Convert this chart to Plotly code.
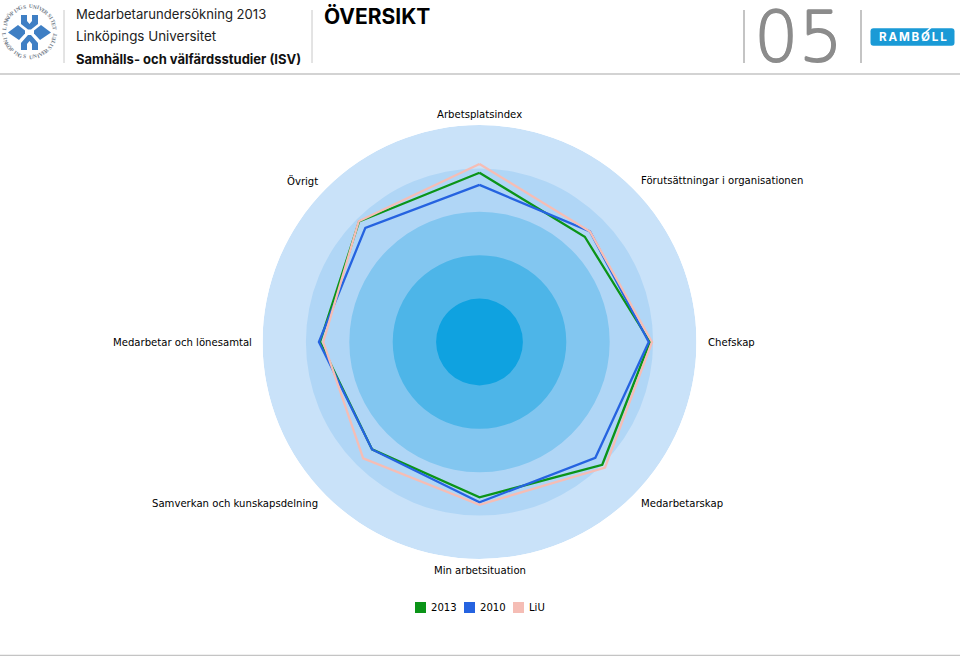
import math
import plotly.graph_objects as go

# chart values (scale 0-100)
categories = ["Arbetsplatsindex", "Förutsättningar i organisationen", "Chefskap", "Medarbetarskap",
              "Min arbetsituation", "Samverkan och kunskapsdelning", "Medarbetar och lönesamtal", "Övrigt"]
angles = [0, 45, 90, 135, 180, 225, 270, 315]
values_2013 = [78, 68.6, 78.5, 80, 71.6, 70, 73.5, 78.5]
values_2010 = [72.4, 72, 78, 75.5, 73.9, 70, 74, 74.4]
values_liu = [82, 72, 79.5, 81.8, 75, 75.8, 72, 78.7]
series_names = ["2013", "2010", "LiU"]
band_tops = [100, 80, 60, 40, 20]

band_colors = ["#c9e2f9", "#b0d6f6", "#82c6f0", "#4db5e8", "#0fa2e0"]
line_colors = ["#0b9418", "#2563e0", "#f5bdb5"]

W, H = 960, 656
CX, CY, R = 479.5, 342, 217
LABEL_R = 228
FONT = "DejaVu Sans"
HEAD = "Inter"


def px(x):
    return x / W


def py(y):
    return 1 - y / H


def text(x, y, s, size, color="#000000", family=FONT, anchor="left", weight=None, angle=0, shadow=None):
    return dict(x=px(x), y=py(y), xref="paper", yref="paper", text=s, showarrow=False, borderpad=0, borderwidth=0,
                xanchor=anchor, yanchor="middle", textangle=angle,
                font=dict(size=size, color=color, family=family, weight=weight, shadow=shadow))


def line(x0, y0, x1, y1, color="#c8c8c8", width=1):
    return dict(type="line", xref="paper", yref="paper", x0=px(x0), y0=py(y0), x1=px(x1), y1=py(y1),
                line=dict(color=color, width=width))


def box(x0, y0, x1, y1, color):
    return dict(type="rect", xref="paper", yref="paper", x0=px(x0), y0=py(y0), x1=px(x1), y1=py(y1),
                line=dict(width=0), fillcolor=color)


def poly(points, color):
    d = "M" + " L".join(f"{px(x):.5f},{py(y):.5f}" for x, y in points) + " Z"
    return dict(type="path", xref="paper", yref="paper", path=d, line=dict(width=0), fillcolor=color)


fig = go.Figure()

# rings, largest first
for top, col in zip(band_tops, band_colors):
    fig.add_trace(go.Barpolar(r=[top], theta=[0], width=[360], marker=dict(color=col, line=dict(width=0)),
                              showlegend=False, hoverinfo="skip"))

for name, vals, col in zip(series_names, [values_2013, values_2010, values_liu], line_colors):
    fig.add_trace(go.Scatterpolar(r=vals + vals[:1], theta=angles + angles[:1], mode="lines", name=name,
                                  line=dict(color=col, width=2.3), showlegend=False))

fig.update_layout(
    width=W, height=H, margin=dict(l=0, r=0, t=0, b=0), paper_bgcolor="white", showlegend=False,
    polar=dict(
        bgcolor="rgba(0,0,0,0)", barmode="overlay",
        domain=dict(x=[px(CX - R), px(CX + R)], y=[py(CY + R), py(CY - R)]),
        radialaxis=dict(range=[0, 100], visible=False),
        angularaxis=dict(direction="clockwise", rotation=90, tickmode="array", tickvals=angles,
                         showticklabels=False, showgrid=False, showline=False, ticks=""),
    ),
)

shapes = [line(0, 74, 960, 74, "#c4c4c4", 1.5), line(0, 655.5, 960, 655.5, "#c4c4c4", 1.5),
          line(64, 10, 64, 63), line(312, 10, 312, 63), line(744, 10, 744, 63, "#c4c4c4", 2), line(861, 10, 861, 63, "#c4c4c4", 2)]
notes = []

# LiU logo: emblem
EMBLEM = "#3f7fc4"
shapes.append(poly([(21, 15), (27, 15), (27, 21), (29.5, 24), (32, 21), (32, 15), (38, 15), (38, 24), (31, 29.5), (28, 29.5), (21, 24)], EMBLEM))
shapes.append(poly([(8, 32.5), (18, 25), (25, 30.5), (25, 33.5), (19, 40)], EMBLEM))
shapes.append(poly([(51, 32.5), (41, 25), (34, 30.5), (34, 33.5), (40, 40)], EMBLEM))
shapes.append(poly([(21, 43), (28, 35), (31, 35), (38, 43), (38, 50), (32, 50), (32, 44), (29.5, 41), (27, 44), (27, 50), (21, 50)], EMBLEM))

# LiU logo: ring text, one letter at a time
ring_text = "LINKÖPINGS UNIVERSITET"
RING_R = 25.5
for i, ch in enumerate(ring_text):
    if ch == " ":
        continue
    a = -82 + 164 * i / (len(ring_text) - 1)
    notes.append(text(29.5 + RING_R * math.sin(math.radians(a)), 31.5 - RING_R * math.cos(math.radians(a)), ch, 5.5,
                      "#77828d", "Liberation Serif", "center", 700, a))
    notes.append(text(29.5 + RING_R * math.sin(math.radians(a)), 31.5 + RING_R * math.cos(math.radians(a)), ch, 5.5,
                      "#77828d", "Liberation Serif", "center", 700, -a))

# Ramboll badge
r = 3
bx0, by0, bx1, by1 = 870.5, 28.3, 954.5, 45.7
d = (f"M{px(bx0 + r)},{py(by0)} L{px(bx1 - r)},{py(by0)} Q{px(bx1)},{py(by0)} {px(bx1)},{py(by0 + r)} "
     f"L{px(bx1)},{py(by1 - r)} Q{px(bx1)},{py(by1)} {px(bx1 - r)},{py(by1)} L{px(bx0 + r)},{py(by1)} "
     f"Q{px(bx0)},{py(by1)} {px(bx0)},{py(by1 - r)} L{px(bx0)},{py(by0 + r)} Q{px(bx0)},{py(by0)} {px(bx0 + r)},{py(by0)} Z")
shapes.append(dict(type="path", xref="paper", yref="paper", path=d, line=dict(width=0), fillcolor="#1a9ad6"))
shapes.append(line(925, 33, 931, 27.5, "#ffffff", 1.6))

# legend, drawn by hand to get the tight swatches of the original
legend_x = [415, 464, 513]
for x, name, col in zip(legend_x, series_names, line_colors):
    shapes.append(box(x, 602, x + 11, 613, col))
    notes.append(text(x + 16, 607.5, name, 10.1))

# axis labels sit on a circle just outside the rings
for a, cat in zip(angles, categories):
    s, c = math.sin(math.radians(a)), math.cos(math.radians(a))
    anchor = "center" if abs(s) < 0.01 else ("left" if s > 0 else "right")
    notes.append(text(CX + LABEL_R * s, CY - LABEL_R * c, cat, 10.1, anchor=anchor))

# thin face thickened a little, the original numeral is heavier
thick = "0.8px 0 0 #8c8c8c, -0.8px 0 0 #8c8c8c, 0 0.8px 0 #8c8c8c, 0 -0.8px 0 #8c8c8c"
notes += [
    text(76, 14.5, "Medarbetarundersökning 2013", 13.1, "#222222", HEAD),
    text(76, 36, "Linköpings Universitet", 13.4, "#222222", HEAD),
    text(76, 59, "Samhälls- och välfärdsstudier (ISV)", 13, "#111111", HEAD, weight=700),
    text(324, 17, "ÖVERSIKT", 21, "#000000", HEAD, weight=700),
    text(754, 37, "05", 70, "#8c8c8c", FONT, weight=200, shadow=thick),
    text(912.5, 37, "R\u2009A\u2009M\u2009B\u2009Ø\u2009L\u2009L", 11.6, "#ffffff", HEAD, "center", 700),
]

fig.update_layout(shapes=shapes, annotations=notes)

fig.write_html("out.html", config={"displayModeBar": False}, post_script="document.body.style.margin='0';")
